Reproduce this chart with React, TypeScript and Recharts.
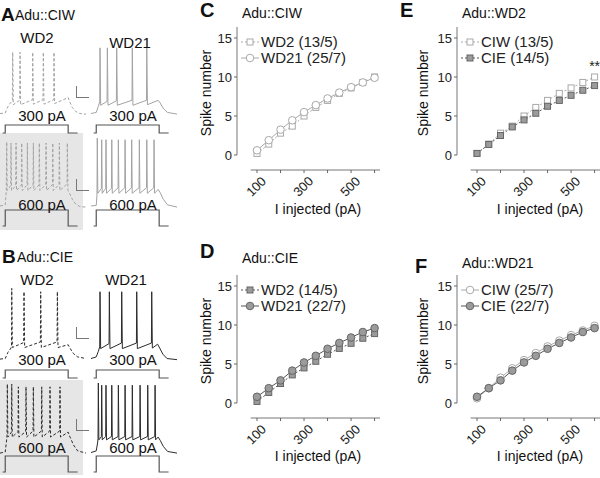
import { LineChart, Line, XAxis, YAxis, ReferenceLine, ReferenceDot } from "recharts";

const FONT = "'Liberation Sans', Arial, sans-serif";

// injected current steps (pA)
const CURRENTS = [100, 150, 200, 250, 300, 350, 400, 450, 500, 550, 600];
const X_TICKS = [100, 200, 300, 400, 500, 600];
const X_LABELS = [100, 300, 500];
const Y_TICKS = [0, 5, 10, 15];

// mean spike number per step
const CIW_WD2 = [0.2, 1.4, 2.8, 3.7, 5.0, 6.1, 7.0, 7.9, 8.6, 9.3, 10.0]; // 13/5
const CIE_WD2 = [0.2, 1.35, 2.5, 3.6, 4.5, 5.35, 6.25, 7.0, 7.65, 8.3, 8.9]; // 14/5
const CIW_WD21 = [0.6, 1.9, 3.25, 4.45, 5.5, 6.4, 7.25, 8.0, 8.7, 9.3, 9.9]; // 25/7
const CIE_WD21 = [0.8, 1.9, 2.9, 4.15, 5.2, 6.05, 6.95, 7.7, 8.4, 9.1, 9.6]; // 22/7

// example traces [ms, mV]
const A_WD2_300 = [[-50,-71],[0,-70],[15,-62],[40,-54],[68,-48],[71,40],[77,-55],[138,-47],[141,40],[147,-55],[259,-46],[262,40],[268,-54],[360,-46],[363,40],[369,-54],[462,-46],[465,40],[471,-53],[600,-42],[615,-50],[640,-60],[670,-67],[710,-71],[770,-72]];
const A_WD21_300 = [[-50,-71],[0,-69],[20,-58],[33,-50],[36,48],[42,-56],[103,-49],[106,48],[112,-56],[192,-48],[195,48],[201,-56],[341,-47],[344,48],[350,-56],[479,-47],[482,48],[488,-55],[590,-47],[610,-52],[640,-62],[680,-69],[770,-72]];
const A_WD2_600 = [[-50,-70],[0,-68],[10,-42],[14,46],[19,-42],[52,-33],[55,44],[60,-42],[100,-33],[103,44],[108,-42],[154,-32],[157,44],[162,-42],[208,-32],[211,44],[216,-42],[265,-32],[268,44],[273,-42],[322,-32],[325,44],[330,-42],[386,-31],[389,44],[394,-42],[450,-31],[453,44],[458,-42],[513,-31],[516,44],[521,-42],[589,-30],[592,44],[598,-42],[615,-48],[640,-58],[670,-66],[710,-71],[770,-72]];
const A_WD21_600 = [[-50,-70],[0,-69],[7,-50],[10,53],[15,-47],[49,-38],[52,50],[57,-47],[90,-38],[93,50],[98,-47],[145,-38],[148,50],[153,-47],[208,-37],[211,50],[216,-47],[272,-37],[275,50],[280,-47],[335,-37],[338,50],[343,-47],[408,-37],[411,50],[416,-47],[479,-37],[482,50],[487,-47],[548,-37],[551,50],[556,-47],[590,-40],[610,-46],[640,-58],[680,-68],[770,-72]];
const B_WD2_300 = [[-50,-72],[0,-71],[25,-60],[55,-52],[60,-48],[62,56],[68,-51],[176,-42],[179,50],[185,-51],[335,-41],[338,50],[344,-51],[494,-41],[497,50],[503,-51],[600,-46],[620,-53],[650,-62],[690,-68],[770,-71]];
const B_WD21_300 = [[-50,-71],[0,-68],[20,-58],[33,-50],[36,50],[42,-53],[122,-44],[125,50],[131,-53],[240,-43],[243,50],[249,-53],[383,-43],[386,50],[392,-53],[526,-43],[529,50],[535,-52],[585,-45],[605,-52],[635,-63],[675,-71],[770,-73]];
const B_WD2_600 = [[-50,-72],[0,-70],[12,-50],[17,-40],[20,53],[25,-43],[59,-34],[62,53],[67,-43],[122,-33],[125,48],[130,-43],[195,-33],[198,48],[203,-43],[265,-32],[268,48],[273,-43],[345,-32],[348,48],[353,-43],[424,-32],[427,48],[432,-43],[519,-32],[522,48],[527,-43],[600,-34],[620,-44],[650,-57],[690,-68],[770,-72]];
const B_WD21_600 = [[-50,-71],[0,-68],[14,-52],[17,-46],[20,55],[25,-48],[49,-42],[52,51],[57,-48],[90,-42],[93,51],[98,-48],[145,-42],[148,51],[153,-48],[208,-42],[211,51],[216,-48],[272,-42],[275,51],[280,-48],[341,-42],[344,51],[349,-48],[415,-42],[418,51],[423,-48],[488,-42],[491,51],[496,-48],[558,-42],[561,51],[566,-48],[590,-43],[610,-49],[640,-60],[680,-69],[770,-72]];

// current command [ms, pA]
const STEP_300 = [[-25,0],[0,0],[0,300],[600,300],[600,0],[690,0]];
const STEP_600 = [[-25,0],[0,0],[0,600],[600,600],[600,0],[690,0]];

type Style = { shape: "square" | "circle"; filled: boolean; dashed: boolean };
const STYLES: Record<string, Style> = {
  ciwWd2: { shape: "square", filled: false, dashed: true },
  cieWd2: { shape: "square", filled: true, dashed: true },
  ciwWd21: { shape: "circle", filled: false, dashed: false },
  cieWd21: { shape: "circle", filled: true, dashed: false },
};
const VALUES: Record<string, number[]> = {
  ciwWd2: CIW_WD2,
  cieWd2: CIE_WD2,
  ciwWd21: CIW_WD21,
  cieWd21: CIE_WD21,
};

function Marker({ cx, cy, st }: { cx: number; cy: number; st: Style }) {
  const fill = st.filled ? "#9b9b9b" : "#fff";
  const stroke = st.filled ? "#666" : "#a9a9a9";
  if (st.shape === "square")
    return <rect x={cx - 3} y={cy - 3} width={6} height={6} fill={fill} stroke={stroke} strokeWidth={1} />;
  return <circle cx={cx} cy={cy} r={3.8} fill={fill} stroke={stroke} strokeWidth={1} />;
}

const XTick = (props: any) => {
  const { x, y, payload } = props;
  if (!X_LABELS.includes(payload.value)) return <g />;
  const ax = x + 10;
  const ay = y + 7;
  return (
    <text x={ax} y={ay} transform={`rotate(-45 ${ax} ${ay})`} textAnchor="end" fontSize={13} fill="#222">
      {payload.value}
    </text>
  );
};

function FIChart({ left, top, series, star }: { left: number; top: number; series: [string, string][]; star?: boolean }) {
  const data = CURRENTS.map((x, i) => ({ x, s0: VALUES[series[0][0]][i], s1: VALUES[series[1][0]][i] }));
  return (
    <div style={{ position: "absolute", left, top, width: 190, height: 220 }}>
      <LineChart width={190} height={220} data={data} margin={{ top: 27, right: 10, left: 0, bottom: 20 }}>
        <XAxis
          dataKey="x"
          type="number"
          domain={[15, 623]}
          ticks={X_TICKS}
          allowDataOverflow
          axisLine={false}
          tickSize={3}
          tickLine={{ stroke: "#666" }}
          tick={<XTick />}
          height={30}
          interval={0}
        />
        <YAxis
          type="number"
          domain={[-1.923, 16.41]}
          ticks={Y_TICKS}
          allowDataOverflow
          axisLine={false}
          tickSize={3}
          tickLine={{ stroke: "#666" }}
          tick={{ fontSize: 13, fill: "#222" }}
          width={37}
          interval={0}
        />
        <ReferenceLine segment={[{ x: 15, y: 0 }, { x: 15, y: 16.41 }]} stroke="#777" ifOverflow="visible" />
        <ReferenceLine segment={[{ x: 73, y: -1.923 }, { x: 623, y: -1.923 }]} stroke="#777" ifOverflow="visible" />
        {series.map(([k], idx) => {
          const st = STYLES[k];
          return (
            <Line
              key={k}
              dataKey={idx === 0 ? "s0" : "s1"}
              type="linear"
              stroke={st.filled ? "#555" : "#aaa"}
              strokeWidth={1}
              strokeDasharray={st.dashed ? "2 2" : undefined}
              isAnimationActive={false}
              dot={(p: any) => <Marker key={`${k}-${p.index}`} cx={p.cx} cy={p.cy} st={st} />}
              activeDot={false}
            />
          );
        })}
        {star && (
          <ReferenceDot
            x={600}
            y={11.4}
            r={0}
            ifOverflow="visible"
            label={{ value: "**", position: "center", fontSize: 14, fill: "#222" }}
          />
        )}
      </LineChart>
      <div style={{ position: "absolute", left: 40, top: 34, fontSize: 15, color: "#222", lineHeight: "16px" }}>
        {series.map(([k, label]) => {
          const st = STYLES[k];
          return (
            <div key={k} style={{ display: "flex", alignItems: "center", height: 16, whiteSpace: "nowrap" }}>
              <svg width={20} height={12}>
                <line x1={1} y1={6} x2={19} y2={6} stroke={st.filled ? "#555" : "#aaa"} strokeDasharray={st.dashed ? "2 2" : undefined} />
                <Marker cx={10} cy={6} st={st} />
              </svg>
              <span style={{ marginLeft: 1 }}>{label}</span>
            </div>
          );
        })}
      </div>
    </div>
  );
}

function Trace({ left, top, points, step, color, dashed }: { left: number; top: number; points: number[][]; step: number[][]; color: string; dashed: boolean }) {
  const data = points.map(([t, v]) => ({ t, v }));
  const stepData = step.map(([t, i]) => ({ t, i }));
  return (
    <div style={{ position: "absolute", left, top }}>
      <LineChart width={86} height={97} margin={{ top: 0, right: 0, left: 0, bottom: 0 }}>
        <XAxis type="number" dataKey="t" domain={[-50, 770]} hide allowDataOverflow />
        <YAxis yAxisId="v" type="number" domain={[-115.3, 60.4]} hide allowDataOverflow />
        <YAxis yAxisId="i" type="number" domain={[-187.5, 3450]} hide allowDataOverflow />
        <Line yAxisId="i" data={stepData} dataKey="i" type="linear" stroke="#555" strokeWidth={1.2} dot={false} activeDot={false} isAnimationActive={false} />
        <Line
          yAxisId="v"
          data={data}
          dataKey="v"
          type="linear"
          stroke={color}
          strokeWidth={1}
          strokeDasharray={dashed ? "3 2" : undefined}
          dot={false}
          activeDot={false}
          isAnimationActive={false}
        />
      </LineChart>
    </div>
  );
}

const ScaleBar = ({ top }: { top: number }) => (
  <div style={{ position: "absolute", left: 76, top, width: 12, height: 11, borderLeft: "1px solid #777", borderBottom: "1px solid #777" }} />
);

export default function App() {
  const light = "#a3a3a3";
  const dark = "#2b2b2b";
  return (
    <div style={{ position: "absolute", left: 0, top: 0, width: 600, height: 478, background: "#fff", overflow: "hidden", fontFamily: FONT }}>
      {/* shaded 600 pA WD2 panels */}
      <div style={{ position: "absolute", left: 0, top: 133, width: 83, height: 97, background: "#e6e6e6" }} />
      <div style={{ position: "absolute", left: 0, top: 380, width: 83, height: 95, background: "#e6e6e6" }} />

      <Trace left={0} top={41} points={A_WD2_300} step={STEP_300} color={light} dashed />
      <Trace left={91} top={41} points={A_WD21_300} step={STEP_300} color={light} dashed={false} />
      <Trace left={0} top={134} points={A_WD2_600} step={STEP_600} color={light} dashed />
      <Trace left={91} top={134} points={A_WD21_600} step={STEP_600} color={light} dashed={false} />
      <Trace left={0} top={286} points={B_WD2_300} step={STEP_300} color={dark} dashed />
      <Trace left={91} top={286} points={B_WD21_300} step={STEP_300} color={dark} dashed={false} />
      <Trace left={0} top={380} points={B_WD2_600} step={STEP_600} color={dark} dashed />
      <Trace left={91} top={380} points={B_WD21_600} step={STEP_600} color={dark} dashed={false} />

      <ScaleBar top={86} />
      <ScaleBar top={179} />
      <ScaleBar top={327} />
      <ScaleBar top={419} />

      <FIChart left={200} top={0} series={[["ciwWd2", "WD2 (13/5)"], ["ciwWd21", "WD21 (25/7)"]]} />
      <FIChart left={200} top={248} series={[["cieWd2", "WD2 (14/5)"], ["cieWd21", "WD21 (22/7)"]]} />
      <FIChart left={420} top={0} series={[["ciwWd2", "CIW (13/5)"], ["cieWd2", "CIE (14/5)"]]} star />
      <FIChart left={420} top={248} series={[["ciwWd21", "CIW (25/7)"], ["cieWd21", "CIE (22/7)"]]} />

      <svg width={600} height={478} style={{ position: "absolute", left: 0, top: 0, pointerEvents: "none" }} fontFamily={FONT} fill="#111">
        <text x={1} y={21} fontSize={19} fontWeight="bold">A</text>
        <text x={15} y={20} fontSize={14}>Adu::CIW</text>
        <text x={2} y={263} fontSize={19} fontWeight="bold">B</text>
        <text x={17} y={262} fontSize={14}>Adu::CIE</text>

        <text x={37} y={43} fontSize={15} textAnchor="middle">WD2</text>
        <text x={130} y={48} fontSize={15} textAnchor="middle">WD21</text>
        <text x={37} y={285} fontSize={15} textAnchor="middle">WD2</text>
        <text x={126} y={285} fontSize={15} textAnchor="middle">WD21</text>

        <text x={42} y={121} fontSize={15} textAnchor="middle">300 pA</text>
        <text x={133} y={121} fontSize={15} textAnchor="middle">300 pA</text>
        <text x={42} y={210} fontSize={15} textAnchor="middle">600 pA</text>
        <text x={133} y={210} fontSize={15} textAnchor="middle">600 pA</text>
        <text x={42} y={365} fontSize={15} textAnchor="middle">300 pA</text>
        <text x={133} y={365} fontSize={15} textAnchor="middle">300 pA</text>
        <text x={42} y={453} fontSize={15} textAnchor="middle">600 pA</text>
        <text x={133} y={453} fontSize={15} textAnchor="middle">600 pA</text>

        <text x={200} y={17} fontSize={20} fontWeight="bold">C</text>
        <text x={242} y={18} fontSize={14}>Adu::CIW</text>
        <text x={200} y={258} fontSize={20} fontWeight="bold">D</text>
        <text x={242} y={263} fontSize={14}>Adu::CIE</text>
        <text x={400} y={17} fontSize={20} fontWeight="bold">E</text>
        <text x={462} y={18} fontSize={14}>Adu::WD2</text>
        <text x={415} y={273} fontSize={20} fontWeight="bold">F</text>
        <text x={462} y={268} fontSize={14}>Adu::WD21</text>

        {[[206, 93], [206, 341], [423, 93], [423, 341]].map(([cx, cy]) => (
          <text key={`${cx}-${cy}`} x={cx} y={cy} fontSize={14} textAnchor="middle" dominantBaseline="central" transform={`rotate(-90 ${cx} ${cy})`}>
            Spike number
          </text>
        ))}
        {[[318, 214], [540, 214], [318, 461], [540, 461]].map(([cx, cy]) => (
          <text key={`${cx}-${cy}`} x={cx} y={cy} fontSize={14} textAnchor="middle">
            I injected (pA)
          </text>
        ))}
      </svg>
    </div>
  );
}
